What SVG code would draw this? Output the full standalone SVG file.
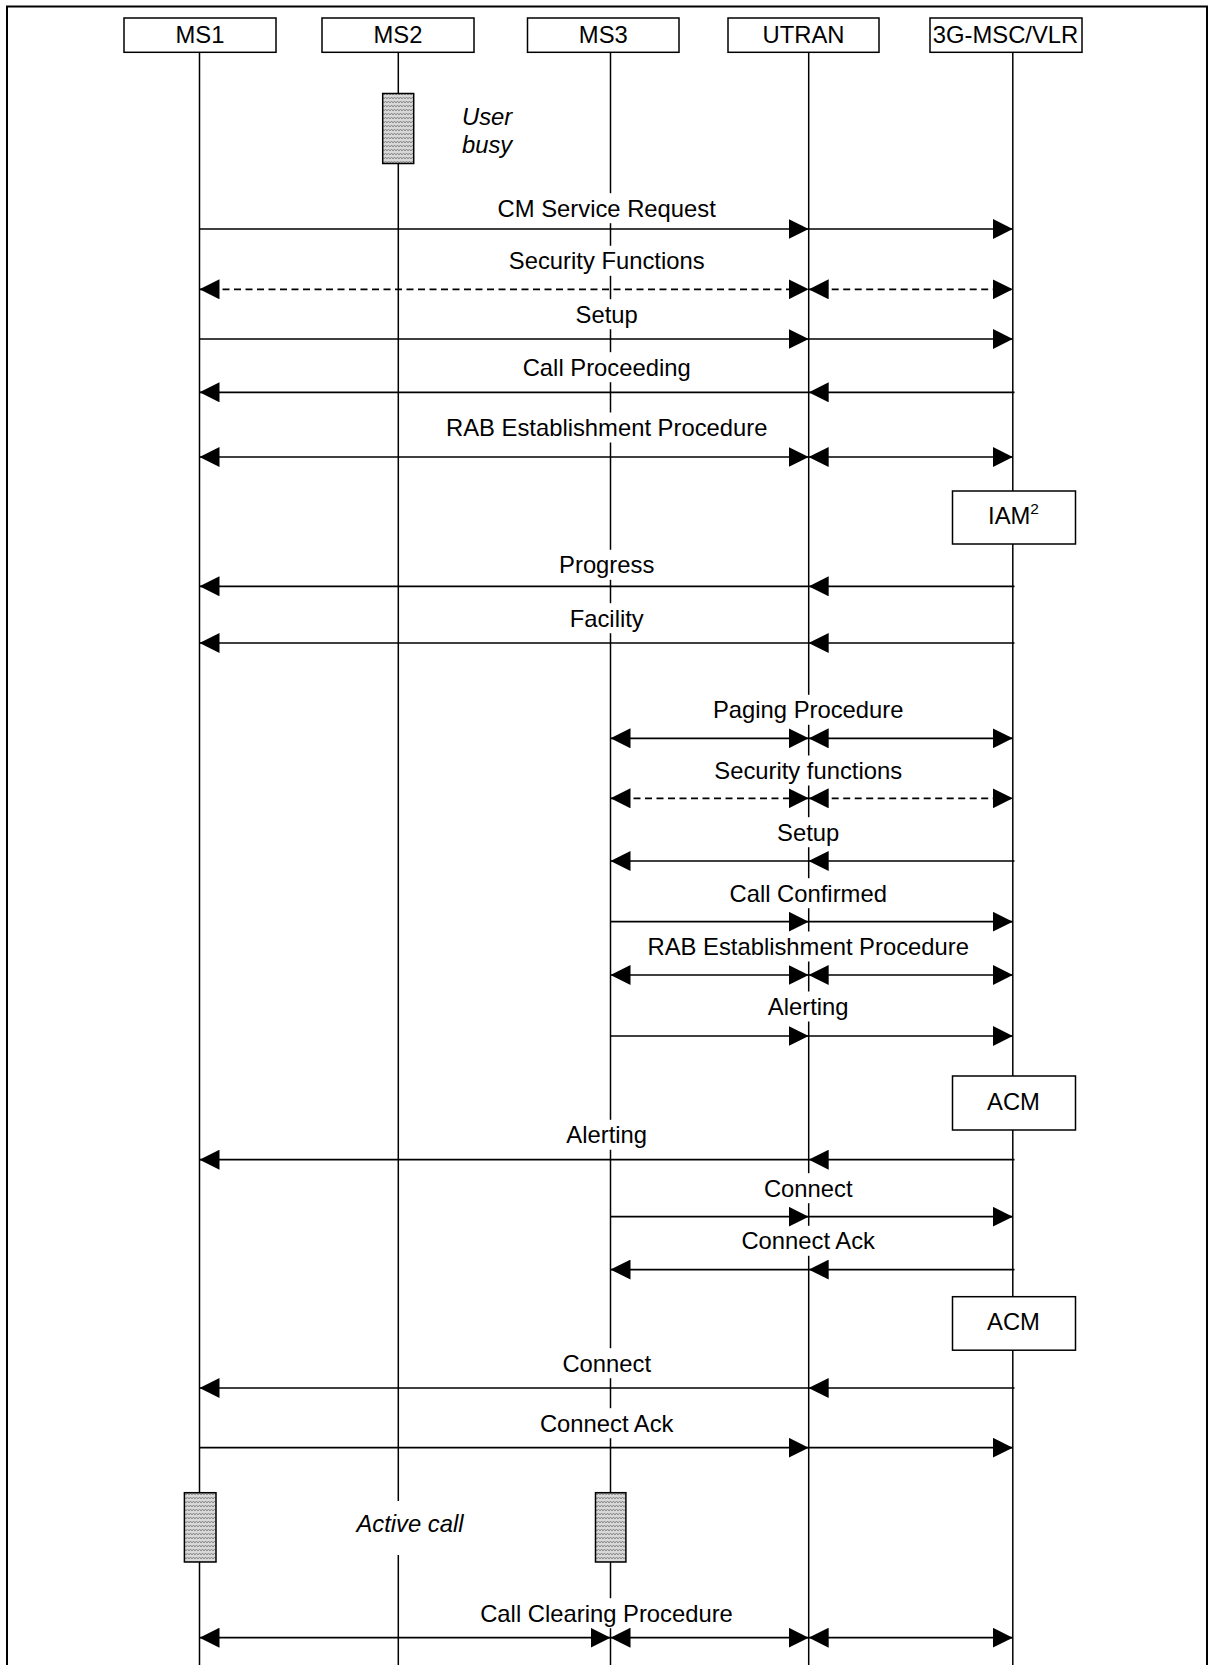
<svg xmlns="http://www.w3.org/2000/svg" width="1209" height="1665" viewBox="0 0 1209 1665">
<style>
text { font-family: "Liberation Sans", Arial, sans-serif; font-size: 23.8px; fill: #000; }
.it { font-style: italic; }
.mid { text-anchor: middle; }
.box { fill: #fff; stroke: #000; stroke-width: 1.5; }
.life { stroke: #000; stroke-width: 1.5; fill: none; }
.msg { stroke: #000; stroke-width: 1.7; fill: none; marker-end: url(#ah); }
.dbl { marker-start: url(#ah); }
.dash { stroke-dasharray: 7 4.5; }
.bg { fill: #fff; stroke: none; }
.act { fill: url(#hatch); stroke: #000; stroke-width: 1.5; }
</style>
<defs>
<marker id="ah" viewBox="0 0 20 20" refX="20" refY="10" markerWidth="20" markerHeight="20" markerUnits="userSpaceOnUse" orient="auto-start-reverse"><path d="M0,0 L20,10 L0,20 z" fill="#000"/></marker>
<pattern id="hatch" width="6" height="4" patternUnits="userSpaceOnUse"><rect width="6" height="4" fill="#d8d8d8"/><path d="M0,3 L1.5,1 L3,3 L4.5,1 L6,3" fill="none" stroke="#777" stroke-width="0.8"/></pattern>
</defs>

<path d="M7,1665 V6.5 H1207 V1665" fill="none" stroke="#000" stroke-width="2"/>

<g id="lifelines">
<line class="life" x1="199.5" y1="52" x2="199.5" y2="1665"/>
<line class="life" x1="398.3" y1="52" x2="398.3" y2="1665"/>
<line class="life" x1="610.5" y1="52" x2="610.5" y2="1665"/>
<line class="life" x1="808.7" y1="52" x2="808.7" y2="1665"/>
<line class="life" x1="1012.8" y1="52" x2="1012.8" y2="1665"/>
</g>

<g id="MS1"><rect class="box" x="124" y="18" width="152" height="34.3"/><text class="mid" x="200" y="43">MS1</text></g>
<g id="MS2"><rect class="box" x="322" y="18" width="152" height="34.3"/><text class="mid" x="398" y="43">MS2</text></g>
<g id="MS3"><rect class="box" x="527.5" y="18" width="151.5" height="34.3"/><text class="mid" x="603.3" y="43">MS3</text></g>
<g id="UTRAN"><rect class="box" x="728" y="18" width="151" height="34.3"/><text class="mid" x="803.5" y="43">UTRAN</text></g>
<g id="MSC"><rect class="box" x="930" y="18" width="152" height="34.3"/><text class="mid" x="1005.5" y="43">3G-MSC/VLR</text></g>

<g id="ms2-busy"><rect class="act" x="382.7" y="93.5" width="31" height="70"/><text class="it" x="462" y="125">User</text><text class="it" x="462" y="153">busy</text></g>

<g id="IAM"><rect class="box" x="952.5" y="491" width="123" height="53"/><text class="mid" x="1013.5" y="523.5">IAM<tspan font-size="15.5" dy="-10">2</tspan></text></g>
<g id="ACM1"><rect class="box" x="952.5" y="1076" width="123" height="54"/><text class="mid" x="1013.5" y="1109.5">ACM</text></g>
<g id="ACM2"><rect class="box" x="952.5" y="1296.7" width="123" height="53.5"/><text class="mid" x="1013.5" y="1329.5">ACM</text></g>

<g id="active-call">
<rect class="act" x="184.4" y="1492.7" width="31.6" height="69.3"/>
<rect class="act" x="595.5" y="1492.7" width="30.4" height="69.3"/>
<rect class="bg" x="352" y="1501" width="116" height="54"/>
<text class="it mid" x="410" y="1531.7">Active call</text>
</g>

<g id="labels">
<rect class="bg" x="494.6" y="193.2" width="224.2" height="30"/><text class="mid" x="606.7" y="216.7">CM Service Request</text>
<rect class="bg" x="505.8" y="245.8" width="201.8" height="30"/><text class="mid" x="606.7" y="269.3">Security Functions</text>
<rect class="bg" x="572.6" y="299.2" width="68.2" height="30"/><text class="mid" x="606.7" y="322.7">Setup</text>
<rect class="bg" x="519.7" y="352.2" width="174" height="30"/><text class="mid" x="606.7" y="375.7">Call Proceeding</text>
<rect class="bg" x="443" y="412.5" width="327.4" height="30"/><text class="mid" x="606.7" y="436">RAB Establishment Procedure</text>
<rect class="bg" x="556.1" y="549.8" width="101.2" height="30"/><text class="mid" x="606.7" y="573.3">Progress</text>
<rect class="bg" x="566.7" y="603.2" width="80" height="30"/><text class="mid" x="606.7" y="626.7">Facility</text>

<rect class="bg" x="710" y="694.8" width="196.5" height="30"/><text class="mid" x="808.2" y="718.3">Paging Procedure</text>
<rect class="bg" x="711.3" y="755.5" width="193.8" height="30"/><text class="mid" x="808.2" y="779">Security functions</text>
<rect class="bg" x="774.1" y="817.2" width="68.2" height="30"/><text class="mid" x="808.2" y="840.7">Setup</text>
<rect class="bg" x="726.5" y="878.2" width="163.4" height="30"/><text class="mid" x="808.2" y="901.7">Call Confirmed</text>
<rect class="bg" x="644.5" y="931.5" width="327.4" height="30"/><text class="mid" x="808.2" y="955">RAB Establishment Procedure</text>
<rect class="bg" x="764.8" y="991.5" width="86.7" height="30"/><text class="mid" x="808.2" y="1015">Alerting</text>

<rect class="bg" x="563.3" y="1119.8" width="86.7" height="30"/><text class="mid" x="606.7" y="1143.3">Alerting</text>
<rect class="bg" x="760.9" y="1173.2" width="94.6" height="30"/><text class="mid" x="808.2" y="1196.7">Connect</text>
<rect class="bg" x="737.7" y="1225.8" width="140.9" height="30"/><text class="mid" x="808.2" y="1249.3">Connect Ack</text>
<rect class="bg" x="559.4" y="1348.2" width="94.6" height="30"/><text class="mid" x="606.7" y="1371.7">Connect</text>
<rect class="bg" x="536.2" y="1408.2" width="140.9" height="30"/><text class="mid" x="606.7" y="1431.7">Connect Ack</text>
<rect class="bg" x="477.2" y="1598.2" width="258.6" height="30"/><text class="mid" x="606.5" y="1621.7">Call Clearing Procedure</text>
</g>

<g id="connectors">
<path class="msg" d="M199.5,229 H808.7"/><path class="msg" d="M808.7,229 H1012.8"/>
<path class="msg dbl dash" d="M199.5,289.3 H808.7"/><path class="msg dbl dash" d="M808.7,289.3 H1012.8"/>
<path class="msg" d="M199.5,339 H808.7"/><path class="msg" d="M808.7,339 H1012.8"/>
<path class="msg" d="M1014.5,392.3 H808.7"/><path class="msg" d="M808.7,392.3 H199.5"/>
<path class="msg dbl" d="M199.5,457 H808.7"/><path class="msg dbl" d="M808.7,457 H1012.8"/>
<path class="msg" d="M1014.5,586.3 H808.7"/><path class="msg" d="M808.7,586.3 H199.5"/>
<path class="msg" d="M1014.5,643 H808.7"/><path class="msg" d="M808.7,643 H199.5"/>

<path class="msg dbl" d="M610.5,738.3 H808.7"/><path class="msg dbl" d="M808.7,738.3 H1012.8"/>
<path class="msg dbl dash" d="M610.5,798.3 H808.7"/><path class="msg dbl dash" d="M808.7,798.3 H1012.8"/>
<path class="msg" d="M1014.5,861 H808.7"/><path class="msg" d="M808.7,861 H610.5"/>
<path class="msg" d="M610.5,921.7 H808.7"/><path class="msg" d="M808.7,921.7 H1012.8"/>
<path class="msg dbl" d="M610.5,975 H808.7"/><path class="msg dbl" d="M808.7,975 H1012.8"/>
<path class="msg" d="M610.5,1036 H808.7"/><path class="msg" d="M808.7,1036 H1012.8"/>

<path class="msg" d="M1014.5,1159.7 H808.7"/><path class="msg" d="M808.7,1159.7 H199.5"/>
<path class="msg" d="M610.5,1216.7 H808.7"/><path class="msg" d="M808.7,1216.7 H1012.8"/>
<path class="msg" d="M1014.5,1269.6 H808.7"/><path class="msg" d="M808.7,1269.6 H610.5"/>
<path class="msg" d="M1014.5,1388 H808.7"/><path class="msg" d="M808.7,1388 H199.5"/>
<path class="msg" d="M199.5,1447.7 H808.7"/><path class="msg" d="M808.7,1447.7 H1012.8"/>

<path class="msg dbl" d="M199.5,1637.7 H610.5"/><path class="msg dbl" d="M610.5,1637.7 H808.7"/><path class="msg dbl" d="M808.7,1637.7 H1012.8"/>
</g>
</svg>
